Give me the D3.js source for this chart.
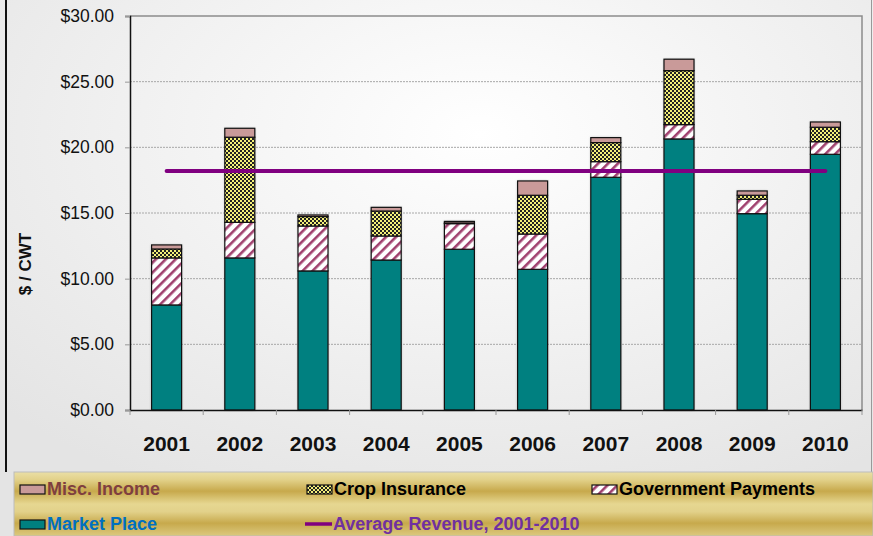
<!DOCTYPE html>
<html>
<head>
<meta charset="utf-8">
<script src="https://cdn.jsdelivr.net/npm/d3@7"></script>
<style>
  body { margin: 0; background: #fff; }
  svg { display: block; font-family: "Liberation Sans", Arial, sans-serif; }
</style>
</head>
<body>
<svg id="chart"></svg>
<script>
const years = ["2001","2002","2003","2004","2005","2006","2007","2008","2009","2010"];
const marketPlace = [8.00, 11.58, 10.59, 11.42, 12.24, 10.71, 17.72, 20.64, 14.95, 19.47];
const govPayments = [3.58, 2.71, 3.42, 1.83, 1.95, 2.69, 1.19, 1.09, 1.09, 0.96];
const cropInsurance = [0.68, 6.48, 0.72, 1.90, 0.05, 2.95, 1.45, 4.11, 0.31, 1.10];
const miscIncome = [0.31, 0.68, 0.12, 0.28, 0.12, 1.09, 0.38, 0.87, 0.33, 0.40];
const averageRevenue = 18.2;
const yTicks = [0, 5, 10, 15, 20, 25, 30];

const W = 873, H = 536;
const margin = { top: 16, right: 11, bottom: 126, left: 130 };
const width = W - margin.left - margin.right,
      height = H - margin.top - margin.bottom;

const svg = d3.select("#chart").attr("width", W).attr("height", H);
const defs = svg.append("defs");

// background gradient
const bg = defs.append("radialGradient").attr("id", "bg")
    .attr("cx", "55%").attr("cy", "25%").attr("r", "75%");
bg.append("stop").attr("offset", "0%").attr("stop-color", "#ffffff");
bg.append("stop").attr("offset", "100%").attr("stop-color", "#e4e4e4");

const gold = defs.append("linearGradient").attr("id", "gold")
    .attr("x1", 0).attr("y1", 0).attr("x2", 0).attr("y2", 1);
[[0, "#eadfa6"], [0.12, "#e2d18a"], [0.3, "#c7a94c"], [0.5, "#e6d791"],
 [0.62, "#e2d18a"], [0.8, "#c7a94c"], [1, "#dcc97f"]].forEach(([o, c]) =>
    gold.append("stop").attr("offset", o).attr("stop-color", c));

// fill patterns
const check = defs.append("pattern").attr("id", "crop")
    .attr("patternUnits", "userSpaceOnUse").attr("width", 4).attr("height", 4);
check.append("rect").attr("width", 4).attr("height", 4).attr("fill", "#f4f07a");
check.append("rect").attr("width", 2).attr("height", 2).attr("fill", "#222");
check.append("rect").attr("x", 2).attr("y", 2).attr("width", 2).attr("height", 2).attr("fill", "#222");

const hatch = defs.append("pattern").attr("id", "gov")
    .attr("patternUnits", "userSpaceOnUse").attr("width", 7).attr("height", 7)
    .attr("patternTransform", "rotate(45)");
hatch.append("rect").attr("width", 7).attr("height", 7).attr("fill", "#fff");
hatch.append("rect").attr("width", 2.6).attr("height", 7).attr("fill", "#a0406e");

const shadow = defs.append("filter").attr("id", "shadow")
    .attr("x", "-20%").attr("y", "-5%").attr("width", "140%").attr("height", "110%");
shadow.append("feDropShadow").attr("dx", 0).attr("dy", 0).attr("stdDeviation", 1)
    .attr("flood-color", "#555").attr("flood-opacity", 0.6);

// slide background and frame
svg.append("rect").attr("width", W).attr("height", H).attr("fill", "url(#bg)");
svg.append("line").attr("x1", 6).attr("x2", 6).attr("y1", 0).attr("y2", 472)
    .attr("stroke", "#111").attr("stroke-width", 2);
svg.append("line").attr("x1", 871.5).attr("x2", 871.5).attr("y1", 0).attr("y2", H)
    .attr("stroke", "#999").attr("stroke-width", 1);

const g = svg.append("g").attr("transform", `translate(${margin.left},${margin.top})`);

const x = d3.scaleBand().domain(years).range([0, width]).paddingInner(0.59).paddingOuter(0.295);
const xOuter = d3.scaleBand().domain(years).range([0, width]);
const y = d3.scaleLinear().domain([0, 30]).range([height, 0]);

// gridlines
g.append("g").selectAll("line").data(yTicks.filter(d => d > 0 && d < 30)).join("line")
    .attr("x1", 0).attr("x2", width)
    .attr("y1", d => y(d)).attr("y2", d => y(d))
    .attr("stroke", "#a8a8a8").attr("stroke-width", 1).attr("stroke-dasharray", "2,1");

// plot frame (top & right gray)
g.append("path")
    .attr("d", `M0,${y(30)}H${width}V${height}`)
    .attr("fill", "none").attr("stroke", "#8c8c8c").attr("stroke-width", 1.5);

// stacked bars
const layers = [
    { key: "market", vals: marketPlace, fill: "#008080" },
    { key: "gov", vals: govPayments, fill: "url(#gov)" },
    { key: "crop", vals: cropInsurance, fill: "url(#crop)" },
    { key: "misc", vals: miscIncome, fill: "#c99a99" }
];
const barData = years.map((yr, i) => {
    let base = 0;
    return layers.map(l => {
        const seg = { year: yr, y0: base, y1: base + l.vals[i], fill: l.fill };
        base += l.vals[i];
        return seg;
    });
});
const bars = g.append("g").selectAll("g").data(barData).join("g");
bars.append("rect")
    .attr("x", d => x(d[0].year)).attr("width", x.bandwidth())
    .attr("y", d => y(d[d.length - 1].y1)).attr("height", d => y(0) - y(d[d.length - 1].y1))
    .attr("fill", "#fff").attr("filter", "url(#shadow)");
bars.selectAll("rect.seg").data(d => d).join("rect").attr("class", "seg")
    .attr("x", d => x(d.year)).attr("width", x.bandwidth())
    .attr("y", d => y(d.y1)).attr("height", d => y(d.y0) - y(d.y1))
    .attr("fill", d => d.fill)
    .attr("stroke", "#111").attr("stroke-width", 1.2);

// average line
g.append("line")
    .attr("x1", x(years[0]) + x.bandwidth() / 2)
    .attr("x2", x(years[years.length - 1]) + x.bandwidth() / 2)
    .attr("y1", y(averageRevenue)).attr("y2", y(averageRevenue))
    .attr("stroke", "#800080").attr("stroke-width", 4).attr("stroke-linecap", "round");

// y axis
const yAxis = g.append("g")
    .call(d3.axisLeft(y).tickValues(yTicks).tickSize(5).tickFormat(d => "$" + d3.format(".2f")(d)));
yAxis.select(".domain").attr("stroke", "#111").attr("stroke-width", 1.5);
yAxis.selectAll(".tick line").attr("stroke", "#999");
yAxis.selectAll("text").attr("font-size", 17.5).attr("fill", "#111").attr("x", -16)
    .attr("font-family", "'Liberation Sans', Arial, sans-serif");

// x axis
const xAxis = g.append("g").attr("transform", `translate(0,${height})`)
    .call(d3.axisBottom(xOuter).tickSize(0).tickPadding(26));
xAxis.select(".domain").attr("stroke", "#111").attr("stroke-width", 1.5);
xAxis.selectAll("text").attr("font-size", 21).attr("font-weight", "bold").attr("fill", "#111")
    .attr("font-family", "'Liberation Sans', Arial, sans-serif");
g.append("g").selectAll("line").data(d3.range(0, years.length + 1)).join("line")
    .attr("x1", i => i * xOuter.step()).attr("x2", i => i * xOuter.step())
    .attr("y1", height).attr("y2", height + 5)
    .attr("stroke", "#999");

// y title
svg.append("text")
    .attr("transform", "translate(31,264) rotate(-90)")
    .attr("text-anchor", "middle")
    .attr("font-size", 17).attr("font-weight", "bold").attr("fill", "#111")
    .text("$ / CWT");

// legend
svg.append("rect").attr("x", 14).attr("y", 472).attr("width", W - 14).attr("height", H - 472)
    .attr("fill", "url(#gold)").attr("stroke", "#bbb").attr("stroke-width", 1);

const legendItems = [
    { label: "Misc. Income", fill: "#c99a99", color: "#7f3f3f", x: 20, y: 489 },
    { label: "Crop Insurance", fill: "url(#crop)", color: "#000", x: 307, y: 489 },
    { label: "Government Payments", fill: "url(#gov)", color: "#000", x: 592, y: 489 },
    { label: "Market Place", fill: "#008080", color: "#0070c0", x: 20, y: 524 },
    { label: "Average Revenue, 2001-2010", line: "#800080", color: "#7030a0", x: 305, y: 524 }
];
const leg = svg.append("g").selectAll("g").data(legendItems).join("g")
    .attr("transform", d => `translate(${d.x},${d.y})`);
leg.filter(d => !d.line).append("rect")
    .attr("x", 0).attr("y", -4).attr("width", 25).attr("height", 9)
    .attr("fill", d => d.fill).attr("stroke", "#111").attr("stroke-width", 1.2);
leg.filter(d => d.line).append("line")
    .attr("x1", 0).attr("x2", 27).attr("y1", 0).attr("y2", 0)
    .attr("stroke", d => d.line).attr("stroke-width", 3.5);
leg.append("text")
    .attr("x", d => d.line ? 28 : 27).attr("dy", "0.36em")
    .attr("font-size", 18).attr("font-weight", "bold")
    .attr("fill", d => d.color)
    .text(d => d.label);
</script>
</body>
</html>
